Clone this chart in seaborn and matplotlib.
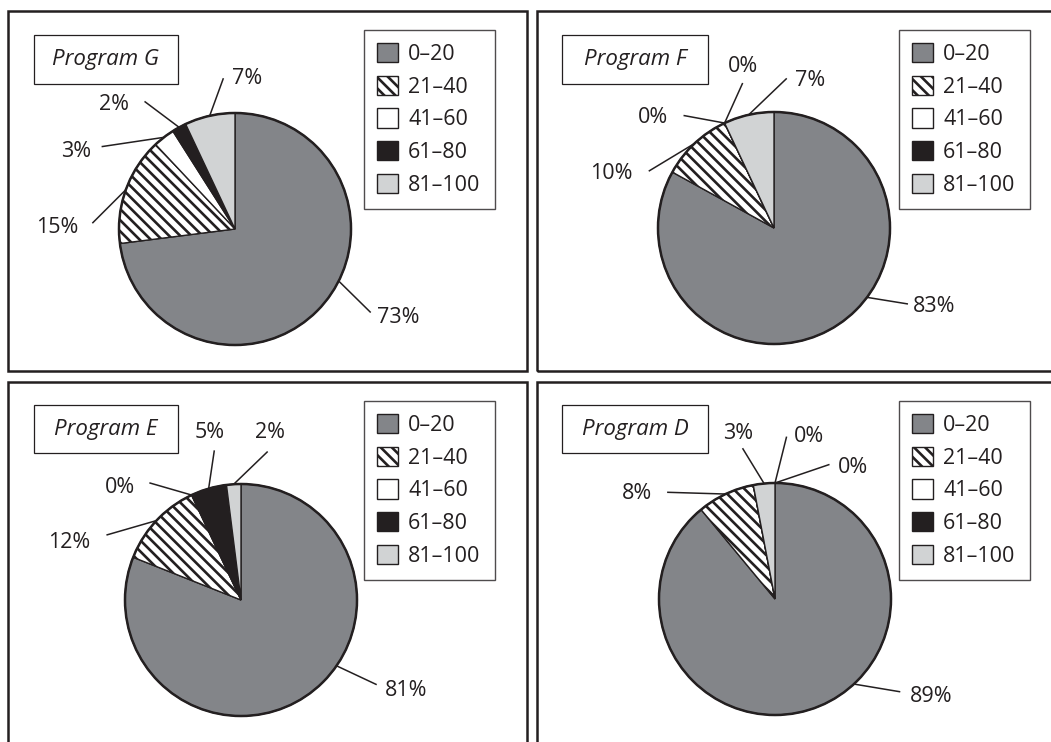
import numpy as np
import matplotlib
matplotlib.use("Agg")
import matplotlib.pyplot as plt
from matplotlib.patches import Patch, Rectangle, Circle
import seaborn as sns

# ---- data ----
categories = ["0–20", "21–40", "41–60", "61–80", "81–100"]
programs = ["Program G", "Program F", "Program E", "Program D"]
share_g = [73, 15, 3, 2, 7]
share_f = [83, 10, 0, 0, 7]
share_e = [81, 12, 0, 5, 2]
share_d = [89, 8, 0, 0, 3]
shares = [share_g, share_f, share_e, share_d]

sns.set_theme(style="white")
plt.rcParams["font.family"] = ["Open Sans", "DejaVu Sans"]

colors = sns.color_palette(["#838589", "#ffffff", "#ffffff", "#231f20", "#d1d3d4"])
hatches = [None, "\\\\\\", None, None, None]
plt.rcParams["hatch.linewidth"] = 1.9

W, H = 1051, 742
R = 116        # pie radius in px
EXT = 1.9      # axes half-extent in pie units

# panel layout in pixels: frame box, pie centre, name box, legend top-left
panels = [
    dict(box=(8, 11, 527, 371), centre=(235, 229), name=(34, 35, 178, 84), leg=(364, 30)),
    dict(box=(537, 11, 1060, 371), centre=(774, 228), name=(562, 35, 708, 84), leg=(899, 30)),
    dict(box=(8, 382, 527, 760), centre=(241, 600), name=(34, 405, 178, 453), leg=(364, 401)),
    dict(box=(537, 382, 1060, 760), centre=(775, 599), name=(562, 405, 708, 453), leg=(899, 401)),
]
LEG_W = 131

# label placement per wedge: (line end x, y, text x, y, ha, start fraction or None)
label_layout = [
    [(1.17, -0.72, 1.22, -0.76, "left", 0.324),
     (-1.23, 0.05, -1.35, 0.01, "right", None),
     (-1.15, 0.71, -1.24, 0.67, "right", None),
     (-0.78, 1.10, -0.91, 1.07, "right", None),
     (-0.10, 1.30, -0.03, 1.30, "left", None)],
    [(1.155, -0.655, 1.20, -0.68, "left", 0.352),
     (-1.08, 0.49, -1.22, 0.47, "right", None),
     (-0.78, 0.97, -0.91, 0.95, "right", None),
     (-0.27, 1.25, -0.27, 1.39, "center", None),
     (0.11, 1.29, 0.18, 1.27, "left", None)],
    [(1.17, -0.73, 1.24, -0.78, "left", 0.346),
     (-1.16, 0.56, -1.30, 0.50, "right", None),
     (-0.79, 1.01, -0.91, 0.97, "right", None),
     (-0.23, 1.29, -0.27, 1.44, "center", None),
     (0.23, 1.28, 0.25, 1.44, "center", None)],
    [(1.08, -0.80, 1.16, -0.84, "left", 0.381),
     (-0.93, 0.92, -1.06, 0.91, "right", None),
     (0.10, 1.40, 0.16, 1.40, "left", 1.0),
     (0.47, 1.16, 0.54, 1.13, "left", 1.0),
     (-0.28, 1.30, -0.32, 1.43, "center", None)],
]

fig = plt.figure(figsize=(W / 100, H / 100), dpi=100)
fig.patch.set_facecolor("white")

for name, vals, layout, p in zip(programs, shares, label_layout, panels):
    # panel frame
    x0, y0, x1, y1 = p["box"]
    fig.add_artist(Rectangle((x0 / W, 1 - y1 / H), (x1 - x0) / W, (y1 - y0) / H,
                             transform=fig.transFigure, fill=False,
                             edgecolor="#231f20", lw=1.8))
    # program name box
    nx0, ny0, nx1, ny1 = p["name"]
    fig.add_artist(Rectangle((nx0 / W, 1 - ny1 / H), (nx1 - nx0) / W, (ny1 - ny0) / H,
                             transform=fig.transFigure, fill=False,
                             edgecolor="#231f20", lw=0.9))
    fig.text((nx0 + nx1) / 2 / W, 1 - (ny0 + ny1) / 2 / H, name, style="italic",
             fontsize=16, ha="center", va="center", color="#231f20")

    cx, cy = p["centre"]
    half = R * EXT
    ax = fig.add_axes([(cx - half) / W, 1 - (cy + half) / H, 2 * half / W, 2 * half / H])
    ax.axis("off")

    wedges, _ = ax.pie(vals, colors=colors, startangle=90, counterclock=False,
                       radius=1, normalize=True,
                       wedgeprops=dict(edgecolor="#231f20", linewidth=1.0))
    for w, h in zip(wedges, hatches):
        if h:
            w.set_hatch(h)
    ax.add_patch(Circle((0, 0), 1, fill=False, edgecolor="#231f20", lw=1.8))
    # pie() resets limits, so set them afterwards
    ax.set_xlim(-EXT, EXT)
    ax.set_ylim(-EXT, EXT)
    ax.set_aspect("equal")

    # percentage labels with leader lines
    total = sum(vals)
    cum = np.cumsum([0] + vals) / total
    for i, (ex, ey, tx, ty, ha, frac) in enumerate(layout):
        f = frac if frac is not None else (cum[i] + cum[i + 1]) / 2
        ang = np.deg2rad(90 - 360 * f)
        sx, sy = np.cos(ang), np.sin(ang)
        ax.plot([sx, ex], [sy, ey], color="#231f20", lw=1.1, solid_capstyle="butt")
        ax.text(tx, ty, f"{vals[i]}%", ha=ha, va="center", fontsize=15.5, color="#231f20")

    # legend
    handles = [Patch(facecolor=c, edgecolor="#231f20", hatch=h, lw=1.0)
               for c, h in zip(colors, hatches)]
    lx, ly = p["leg"]
    leg = ax.legend(handles, categories, loc="upper left", mode="expand",
                    bbox_to_anchor=(lx / W, 1 - ly / H, LEG_W / W, 0),
                    bbox_transform=fig.transFigure,
                    frameon=True, fancybox=False, borderaxespad=0, fontsize=15.5,
                    handlelength=1.0, handleheight=1.0, handletextpad=0.45,
                    labelspacing=0.5, borderpad=0.6)
    leg.get_frame().set_edgecolor("#231f20")
    leg.get_frame().set_linewidth(1.0)
    for t in leg.get_texts():
        t.set_color("#231f20")

fig.savefig("out.png", dpi=100, facecolor="white")
